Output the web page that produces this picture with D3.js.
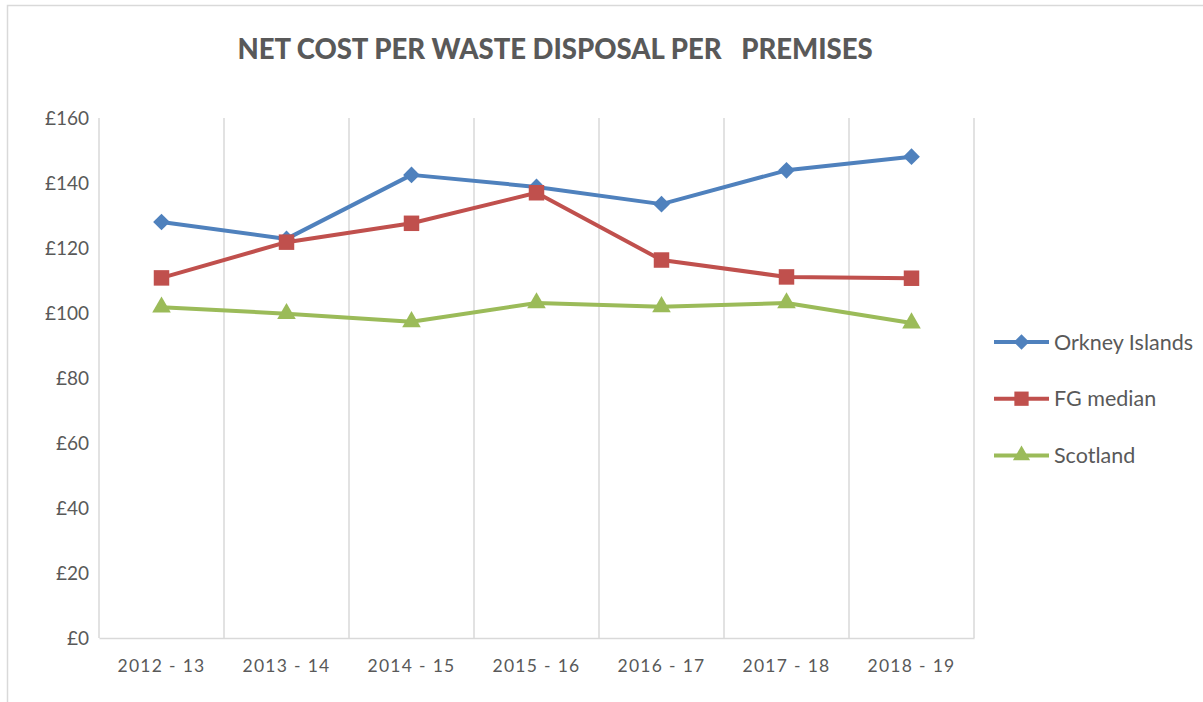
<!DOCTYPE html>
<html>
<head>
<meta charset="utf-8">
<script src="https://cdn.jsdelivr.net/npm/d3@7"></script>
<style>
  body { margin: 0; background: #fff; }
  svg { display: block; font-family: Lato, "Open Sans", sans-serif; }
</style>
</head>
<body>
<svg id="chart" width="1203" height="702"></svg>
<script>
// Financial years on the category axis
const years = ["2012 - 13", "2013 - 14", "2014 - 15", "2015 - 16", "2016 - 17", "2017 - 18", "2018 - 19"];

// Net cost per premises (£)
const orkneyIslands = [128, 122.8, 142.5, 138.8, 133.5, 143.9, 148.1];
const fgMedian      = [110.8, 121.8, 127.6, 137.0, 116.3, 111.1, 110.7];
const scotland      = [101.8, 99.8, 97.3, 103.1, 101.9, 103.1, 96.9];

const yTicks = [0, 20, 40, 60, 80, 100, 120, 140, 160];

// Diamonds are squares turned 45 degrees
const series = [
  { name: "Orkney Islands", values: orkneyIslands, color: "#4F81BD", symbol: d3.symbolSquare,   size: 140, rotate: 45 },
  { name: "FG median",      values: fgMedian,      color: "#C0504D", symbol: d3.symbolSquare,   size: 240, rotate: 0 },
  { name: "Scotland",       values: scotland,      color: "#9BBB59", symbol: d3.symbolTriangle, size: 150, rotate: 0 }
];

const svg = d3.select("#chart");
const plot = { left: 99, right: 974, top: 118, bottom: 638 };

// Outer chart frame (extends past the page edge)
svg.append("rect")
  .attr("x", 7.5).attr("y", 5.5)
  .attr("width", 1300).attr("height", 800)
  .attr("fill", "none").attr("stroke", "#D9D9D9").attr("stroke-width", 1.5);

const x = d3.scaleBand().domain(years).range([plot.left, plot.right]);
const y = d3.scaleLinear().domain([0, 160]).range([plot.bottom, plot.top]);

// Title
svg.append("text")
  .attr("x", 555).attr("y", 59)
  .attr("text-anchor", "middle")
  .attr("font-size", 27.5).attr("font-weight", 900)
  .attr("fill", "#595959")
  .style("white-space", "pre")
  .text("NET COST PER WASTE DISPOSAL PER   PREMISES");

// Vertical gridlines between categories
const bounds = years.map(d => x(d)).concat([x.range()[1]]);
svg.append("g").selectAll("line").data(bounds).join("line")
  .attr("x1", d => d).attr("x2", d => d)
  .attr("y1", plot.top).attr("y2", plot.bottom)
  .attr("stroke", "#D9D9D9").attr("stroke-width", 1.5);

// Category axis
const xAxis = svg.append("g")
  .attr("transform", `translate(0,${plot.bottom})`)
  .call(d3.axisBottom(x).tickSize(0).tickPadding(22));
xAxis.select(".domain").attr("stroke", "#D9D9D9").attr("stroke-width", 1.5);
xAxis.selectAll("text")
  .attr("font-size", 17.5).attr("fill", "#595959")
  .attr("font-family", "Lato, sans-serif")
  .style("letter-spacing", "1.3px");

// Value axis
const yAxis = svg.append("g")
  .attr("transform", `translate(${plot.left},0)`)
  .call(d3.axisLeft(y).tickValues(yTicks).tickSize(0).tickPadding(10).tickFormat(d => "£" + d));
yAxis.select(".domain").remove();
yAxis.selectAll("text")
  .attr("font-size", 19).attr("fill", "#595959")
  .attr("font-family", "Lato, sans-serif");

// Series lines and markers
const line = d3.line()
  .x((d, i) => x(years[i]) + x.bandwidth() / 2)
  .y(d => y(d));

series.forEach(s => {
  svg.append("path")
    .datum(s.values)
    .attr("d", line)
    .attr("fill", "none")
    .attr("stroke", s.color)
    .attr("stroke-width", 4)
    .attr("stroke-linejoin", "round");
  svg.append("g").selectAll("path").data(s.values).join("path")
    .attr("transform", (d, i) => `translate(${x(years[i]) + x.bandwidth() / 2},${y(d)}) rotate(${s.rotate})`)
    .attr("d", d3.symbol(s.symbol, s.size))
    .attr("fill", s.color);
});

// Legend
const legend = svg.append("g");
series.forEach((s, i) => {
  const ly = 342 + i * 56.7;
  legend.append("line")
    .attr("x1", 994).attr("x2", 1049).attr("y1", ly).attr("y2", ly)
    .attr("stroke", s.color).attr("stroke-width", 4);
  legend.append("path")
    .attr("transform", `translate(1021.5,${ly}) rotate(${s.rotate})`)
    .attr("d", d3.symbol(s.symbol, s.size * 0.85))
    .attr("fill", s.color);
  legend.append("text")
    .attr("x", 1054).attr("y", ly).attr("dy", "0.35em")
    .attr("font-size", 21.5).attr("fill", "#595959")
    .text(s.name);
});
</script>
</body>
</html>
